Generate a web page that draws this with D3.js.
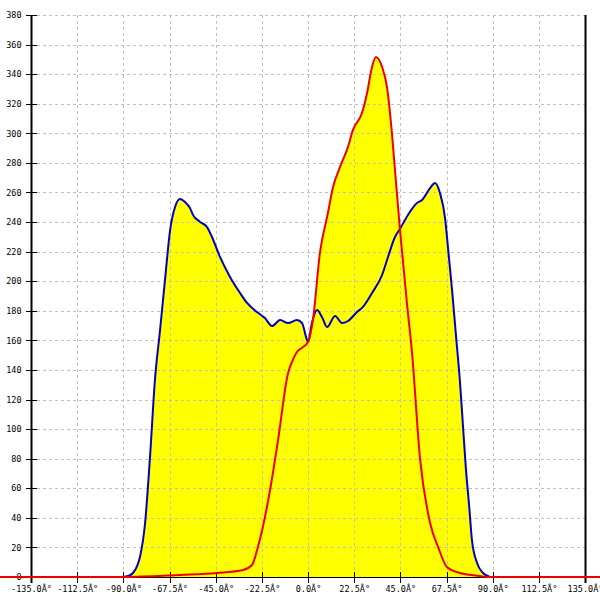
<!DOCTYPE html>
<html><head><meta charset="utf-8">
<script src="https://cdn.jsdelivr.net/npm/d3@7/dist/d3.min.js"></script>
<style>body{margin:0;background:#fff}svg{display:block}</style>
</head><body><svg id="c" width="600" height="600"></svg>
<script>
const xTicks = [-135,-112.5,-90,-67.5,-45,-22.5,0,22.5,45,67.5,90,112.5,135];
const xTickLabels = xTicks.map(v => v.toFixed(1) + "Â°");
const yTicks = d3.range(0, 381, 20);

const blueAngle = [-90.2,-87.7,-85.3,-83.3,-81.9,-79.4,-77.0,-74.6,-72.1,-69.7,-67.2,-64.8,-62.4,-59.9,-57.5,-56.0,-52.6,-49.2,-46.8,-42.9,-38.0,-33.1,-29.7,-24.9,-21.0,-17.5,-13.6,-9.7,-5.4,-2.9,-0.5,0,1.9,4.4,6.8,9.3,13.2,16.6,19.5,23.9,26.8,31.2,36.1,39.0,42.4,44.8,48.7,53.1,55.6,59.5,61.9,64.3,66.8,68.2,70.2,72.1,74.1,75.5,77.0,78.5,79.9,82.4,85.3,88.7];
const blueValue = [0,0.7,2.7,7.4,13.5,36.5,81.1,133.2,167.0,200.8,234.6,250.2,255.6,253.5,249.4,244.7,240.1,236.6,229.9,216.4,202.9,192.0,185.3,179.2,175.1,169.7,173.8,171.7,173.8,171.7,160.3,158.9,171.7,180.5,175.8,169.0,176.5,171.7,173.1,179.2,182.6,192.0,204.2,216.4,229.9,235.3,244.8,252.9,254.9,263.0,266.4,259.7,242.7,223.1,194.1,163.6,131.2,102.8,72.4,48.7,25.0,9.5,2.7,0];

const redAngle = [-151,-90.2,-62.4,-44.3,-31.7,-27.3,-24.4,-20.0,-17.1,-14.6,-9.7,-7.8,-5.4,-2.4,0,2.4,5.8,9.7,12.2,15.6,19.5,21.9,26.3,28.8,31.2,33.1,36.1,38.5,40.9,42.4,44.8,48.2,50.7,54.6,59.5,63.4,67.7,74.1,83.8,87.2,143];
const redValue = [0,0,1.4,2.7,4.7,8.1,20.3,47.3,70.3,92.6,137.9,145.4,152.1,155.5,158.9,173.8,219.1,246.1,263.7,277.2,290.8,302.3,313.7,327.3,344.9,351.6,344.9,331.3,300.2,275.2,235.3,185.3,151.5,80.0,36.5,20.3,6.8,2.7,0.7,0,0];

const svg = d3.select("#c");
const x = d3.scaleLinear().domain([-135,135]).range([31,585]);
const y = d3.scaleLinear().domain([0,380]).range([577,15]);

const blue = blueAngle.map((a,i)=>[a,blueValue[i]]);
const red = redAngle.map((a,i)=>[a,redValue[i]]);

const area = d3.area().x(d=>x(d[0])).y0(y(0)).y1(d=>y(d[1])).curve(d3.curveMonotoneX);
const line = d3.line().x(d=>x(d[0])).y(d=>y(d[1])).curve(d3.curveMonotoneX);

svg.append("path").attr("d", area(blue)).attr("fill","#ffff00");
svg.append("path").attr("d", area(red)).attr("fill","#ffff00");

// grid
const g = svg.append("g").attr("stroke","#c0c0c0").attr("stroke-width",1).attr("stroke-dasharray","3,3");
yTicks.forEach(t=>{ if(t>0) g.append("line").attr("x1",31).attr("x2",585).attr("y1",Math.round(y(t))+0.5).attr("y2",Math.round(y(t))+0.5); });
xTicks.forEach(t=>{ if(t>-135 && t<135) g.append("line").attr("y1",15).attr("y2",577).attr("x1",Math.round(x(t))+0.5).attr("x2",Math.round(x(t))+0.5); });

// axes
const yAxis = d3.axisLeft(y).tickValues(yTicks).tickSize(0).tickFormat(d3.format("d"));
const ya = svg.append("g").attr("transform","translate(31.5,0)").call(yAxis);
ya.select(".domain").remove();
ya.selectAll("text").attr("x",-10).attr("font-family","DejaVu Sans Mono").attr("font-size","8.5px").attr("fill","#000");
yTicks.forEach(t=>{ svg.append("line").attr("x1",26).attr("x2",37).attr("y1",Math.round(y(t))+0.5).attr("y2",Math.round(y(t))+0.5).attr("stroke","#000"); });
svg.append("line").attr("x1",31.5).attr("x2",31.5).attr("y1",15).attr("y2",583).attr("stroke","#000").attr("stroke-width",2);
svg.append("line").attr("x1",585.5).attr("x2",585.5).attr("y1",15).attr("y2",583).attr("stroke","#000").attr("stroke-width",2);

const xAxis = d3.axisBottom(x).tickValues(xTicks).tickSize(0).tickFormat((d,i)=>xTickLabels[i]);
const xa = svg.append("g").attr("transform","translate(0,577)").call(xAxis);
xa.select(".domain").remove();
xa.selectAll("text").attr("y",9).attr("dy","0.71em").attr("font-family","DejaVu Sans Mono").attr("font-size","8.5px").attr("fill","#000");
xTicks.forEach(t=>{ svg.append("line").attr("y1",572).attr("y2",583).attr("x1",Math.round(x(t))+0.5).attr("x2",Math.round(x(t))+0.5).attr("stroke","#000"); });
svg.append("line").attr("x1",31).attr("x2",585).attr("y1",577.5).attr("y2",577.5).attr("stroke","#000");

svg.append("path").attr("d", line(blue)).attr("fill","none").attr("stroke","#0000c8").attr("stroke-width",2);
svg.append("path").attr("d", line(red)).attr("fill","none").attr("stroke","#ee0000").attr("stroke-width",2);
</script></body></html>
